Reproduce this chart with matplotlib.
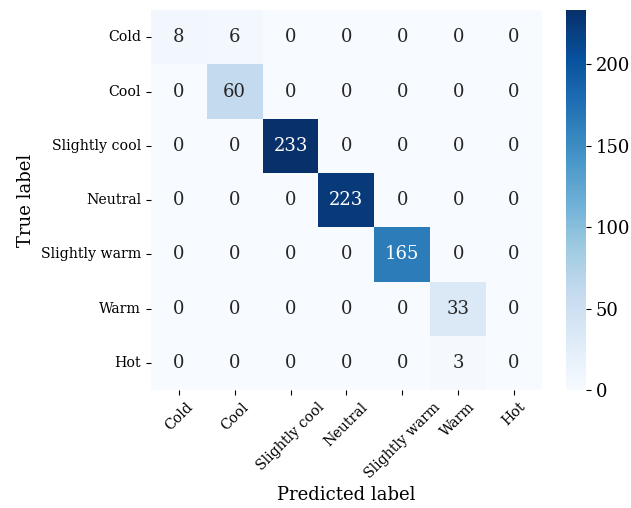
import numpy as np
import matplotlib
matplotlib.use("Agg")
import matplotlib.pyplot as plt
import seaborn as sns

plt.rcParams['font.family'] = ['DejaVu Serif']

# Classes de sensation thermique
classes = ["Cold", "Cool", "Slightly cool", "Neutral", "Slightly warm", "Warm", "Hot"]

# Matrice de confusion (lignes = vrai, colonnes = prédit)
cold_row = [8, 6, 0, 0, 0, 0, 0]
cool_row = [0, 60, 0, 0, 0, 0, 0]
slightly_cool_row = [0, 0, 233, 0, 0, 0, 0]
neutral_row = [0, 0, 0, 223, 0, 0, 0]
slightly_warm_row = [0, 0, 0, 0, 165, 0, 0]
warm_row = [0, 0, 0, 0, 0, 33, 0]
hot_row = [0, 0, 0, 0, 0, 3, 0]

cm = np.array([cold_row, cool_row, slightly_cool_row, neutral_row,
               slightly_warm_row, warm_row, hot_row])

fig = plt.figure(figsize=(6.31, 5.08), dpi=100)
ax = fig.add_axes([0.239, 0.232, 0.620, 0.748])
cax = fig.add_axes([0.897, 0.232, 0.032, 0.748])

sns.heatmap(cm, annot=True, fmt="d", cmap="Blues", ax=ax, cbar_ax=cax,
            xticklabels=classes, yticklabels=classes,
            annot_kws={"size": 13})

ax.set_xticklabels(classes, rotation=45, fontsize=10.2)
ax.set_yticklabels(classes, rotation=0, fontsize=10.2)
ax.set_xlabel("Predicted label", fontsize=13)
ax.set_ylabel("True label", fontsize=13)
cax.tick_params(labelsize=13)

plt.savefig("out.png", dpi=100)
